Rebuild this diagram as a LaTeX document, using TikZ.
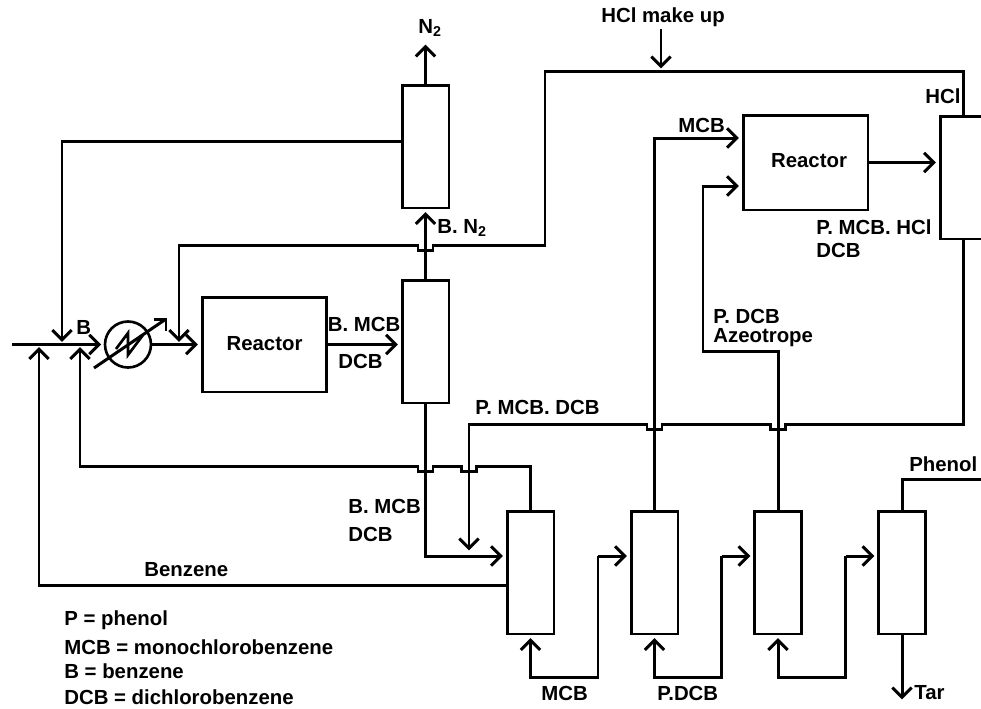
\documentclass[tikz,border=0pt]{standalone}
\usepackage{fontspec}
\setmainfont{Liberation Sans}
\usetikzlibrary{arrows.meta}
\tikzset{
  vessel/.style={draw,line width=1.7pt,minimum width=0.94cm,minimum height=2.46cm,inner sep=0pt},
  reactor/.style={draw,line width=1.7pt,minimum width=2.5cm,minimum height=1.9cm,inner sep=0pt,font=\fontsize{11.6pt}{13pt}\bfseries},
  stream/.style={line width=1.7pt},
  feed/.style={stream,shorten >=1.5pt,-{Straight Barb[length=5.5pt,width=11pt,line width=1.7pt]}},
  tag/.style={inner sep=0pt,anchor=west,font=\fontsize{11.6pt}{13pt}\bfseries}
}
% notch in a level line where a vertical one goes through it
\newcommand{\hopback}[2]{-- ({#1+7.5},#2) -- ({#1+7.5},#2+5.5) -- ({#1-7.5},#2+5.5) -- ({#1-7.5},#2)}
\begin{document}
\begin{tikzpicture}[x=0.02cm,y=-0.02cm]
\useasboundingbox (0,0) rectangle (981,708);
\clip (0,0) rectangle (981,708);
% Vessels
\node[vessel] (absorber) at (425.5,146.5) {};
\node[vessel] (still) at (425.5,341.5) {};
\node[vessel] (hclcol) at (963.5,177.5) {};
\node[vessel] (colA) at (530.5,572.5) {};
\node[vessel] (colB) at (654.5,572.5) {};
\node[vessel] (colC) at (778,572.5) {};
\node[vessel] (colD) at (902,572.5) {};
% Reactors
\node[reactor] (reactorA) at (264.5,344.5) {\raisebox{1.4pt}{Reactor}};
\node[reactor] (reactorB) at (805.5,162.5) {\hspace{4pt}\raisebox{2.5pt}{Reactor}};
% Free ends
\coordinate (nvent) at (425.5,42);
\coordinate (feedin) at (12,344.5);
\coordinate (mixA) at (39,344.5);
\coordinate (mixB) at (62,344.5);
\coordinate (mixC) at (80,344.5);
\coordinate (mixD) at (179,344.5);
\coordinate (makeup) at (661,29);
\coordinate (makeupend) at (661,71);
\coordinate (tarout) at (902,702);
\coordinate (phenolout) at (981,479);
% Exchanger
\node[draw,circle,line width=1.5pt,minimum size=0.92cm,inner sep=0pt] (exch) at (128,344.5) {};
\coordinate (exchlow) at (94,368);
\coordinate (exchhigh) at (166,319);
\draw[stream] (exchlow) -- (exchhigh);
\draw[stream] (154,319) -- (exchhigh) -- (166,331);
\draw[stream,line width=1.5pt] (116,349) -- (128,333) -- (128,355) -- (143,335);
% Left side
\draw[feed] (feedin) -- (exch.west);
\draw[feed] (exch.east) -- (reactorA.west);
\draw[feed] (absorber.west |- 0,141) -- (62,141) -- (mixB);
\draw[feed] (colA.west |- 0,585) -- (39,585) -- (mixA);
\draw[feed] (reactorA.east) -- (still.west |- reactorA.east);
\draw[feed] (still.north) -- (absorber.south);
\draw[feed] (absorber.north) -- (nvent);
% Hcl loop
\draw[feed] (hclcol.north) -- (963.5,71) -- (545,71) -- (545,245) \hopback{425.5}{245} -- (179,245) -- (mixD);
\draw[feed] (makeup) -- (makeupend);
% Second reactor
\draw[feed] (colB.north) -- (654.5,138) -- (reactorB.west |- 0,138);
\draw[feed] (colC.north) -- (778,351) -- (703,351) -- (703,186) -- (reactorB.west |- 0,186);
\draw[feed] (reactorB.east) -- (hclcol.west |- reactorB.east);
% Recycle lines
\draw[feed] (colA.north) -- (530.5,466) \hopback{469}{466} \hopback{425.5}{466} -- (80,466) -- (mixC);
\draw[feed] (hclcol.south) -- (963.5,424) \hopback{778}{424} \hopback{654.5}{424} -- (469,424) -- (469,553);
\draw[feed] (still.south) -- (425.5,556) -- (colA.west |- 0,556);
% Bottom loops
\foreach \from/\to/\turn in {colA/colB/598,colB/colC/721.5,colC/colD/845.5} {
  \draw[feed] (\turn,556) -- (\turn,677) -- (\from.south |- 0,677) -- (\from.south);
  \draw[feed] (\turn,556) -- (\to.west |- 0,556);
}
\draw[feed] (colD.south) -- (tarout);
\draw[stream] (colD.north) -- (902,479) -- (phenolout);
% Labels
\node[tag] (lnvent) at (418,28) {N\textsubscript{2}};
\node[tag] (lbn) at (437,228) {B. N\textsubscript{2}};
\node[tag] (lmakeup) at (601,17) {HCl make up};
\node[tag] (lhcl) at (925,96) {HCl};
\node[tag] (lmcbtop) at (678,125) {MCB};
\node[tag] (lpmh) at (816,227) {P. MCB. HCl};
\node[tag] (ldcbtop) at (816,250) {DCB};
\node[tag] (lpdcb) at (713,316) {P. DCB};
\node[tag] (lazeo) at (713,338) {Azeotrope};
\node[tag] (lb) at (76,327) {B};
\node[tag] (lbmcb) at (327.5,324) {B. MCB};
\node[tag] (ldcb) at (338,361) {DCB};
\node[tag] (lpmd) at (475,407) {P. MCB. DCB};
\node[tag] (lbmcbB) at (348,506) {B. MCB};
\node[tag] (ldcbB) at (348,534) {DCB};
\node[tag] (lbenz) at (144,570) {Benzene};
\node[tag] (lphenol) at (909,464) {Phenol};
\node[tag] (lmcbbot) at (541,693) {MCB};
\node[tag] (lpdcbbot) at (657,693) {P.DCB};
\node[tag] (ltar) at (914,693) {Tar};
\node[tag] (keyP) at (64,620) {P = phenol};
\node[tag] (keyM) at (64,647) {MCB = monochlorobenzene};
\node[tag] (keyB) at (64,671) {B = benzene};
\node[tag] (keyD) at (64,697) {DCB = dichlorobenzene};
\end{tikzpicture}
\end{document}
